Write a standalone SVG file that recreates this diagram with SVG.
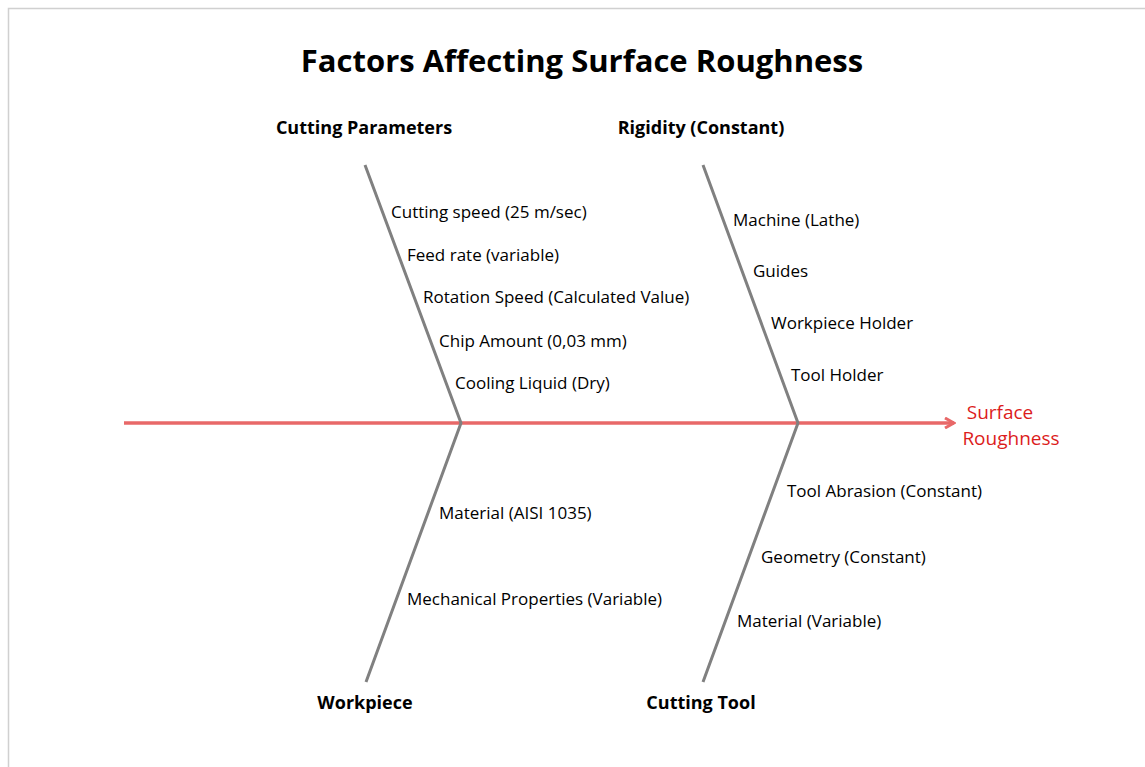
<svg xmlns="http://www.w3.org/2000/svg" width="1145" height="767" viewBox="0 0 1145 767">
<style>
text{font-family:"Open Sans","Noto Sans","Liberation Sans",sans-serif;fill:#000}
.title{font-size:31px;font-weight:bold;text-anchor:middle}
.cat{font-size:18px;font-weight:bold;text-anchor:middle}
.item{font-size:17px}
.eff{font-size:19px;fill:#dc1c1c;text-anchor:middle}
.bone{stroke:#808080;stroke-width:3;fill:none}
.spine{stroke:#e86868;stroke-width:3.5;fill:none}
</style>
<defs>
<marker id="arr" markerWidth="12" markerHeight="12" refX="10" refY="6" orient="auto" markerUnits="userSpaceOnUse">
<path d="M1,1 L10,6 L1,11" fill="none" stroke="#e86868" stroke-width="3"/>
</marker>
</defs>
<rect x="0" y="0" width="1145" height="767" fill="#fff"/>
<path d="M8.5,767 V8.5 H1145" fill="none" stroke="#d0d0d0" stroke-width="1.5"/>
<text class="title" x="582" y="72">Factors Affecting Surface Roughness</text>
<g id="connectors">
<line class="spine" x1="124" y1="423" x2="954" y2="423" marker-end="url(#arr)"/>
<polyline class="bone" points="365,165 461,423 366,682"/>
<polyline class="bone" points="703,165 798,423 703,682"/>
</g>
<g id="cutting-parameters">
<text class="cat" x="364" y="134">Cutting Parameters</text>
<text class="item" x="391" y="218">Cutting speed (25 m/sec)</text>
<text class="item" x="407" y="261">Feed rate (variable)</text>
<text class="item" x="423" y="303">Rotation Speed (Calculated Value)</text>
<text class="item" x="439" y="347">Chip Amount (0,03 mm)</text>
<text class="item" x="455" y="389">Cooling Liquid (Dry)</text>
</g>
<g id="rigidity">
<text class="cat" x="701" y="134">Rigidity (Constant)</text>
<text class="item" x="733" y="226">Machine (Lathe)</text>
<text class="item" x="753" y="277">Guides</text>
<text class="item" x="771" y="329">Workpiece Holder</text>
<text class="item" x="791" y="381">Tool Holder</text>
</g>
<g id="workpiece">
<text class="cat" x="365" y="709">Workpiece</text>
<text class="item" x="439" y="519">Material (AISI 1035)</text>
<text class="item" x="407" y="605">Mechanical Properties (Variable)</text>
</g>
<g id="cutting-tool">
<text class="cat" x="701" y="709">Cutting Tool</text>
<text class="item" x="787" y="497">Tool Abrasion (Constant)</text>
<text class="item" x="761" y="563">Geometry (Constant)</text>
<text class="item" x="737" y="627">Material (Variable)</text>
</g>
<g id="effect">
<text class="eff" x="1000" y="419">Surface</text>
<text class="eff" x="1011" y="445">Roughness</text>
</g>
</svg>
